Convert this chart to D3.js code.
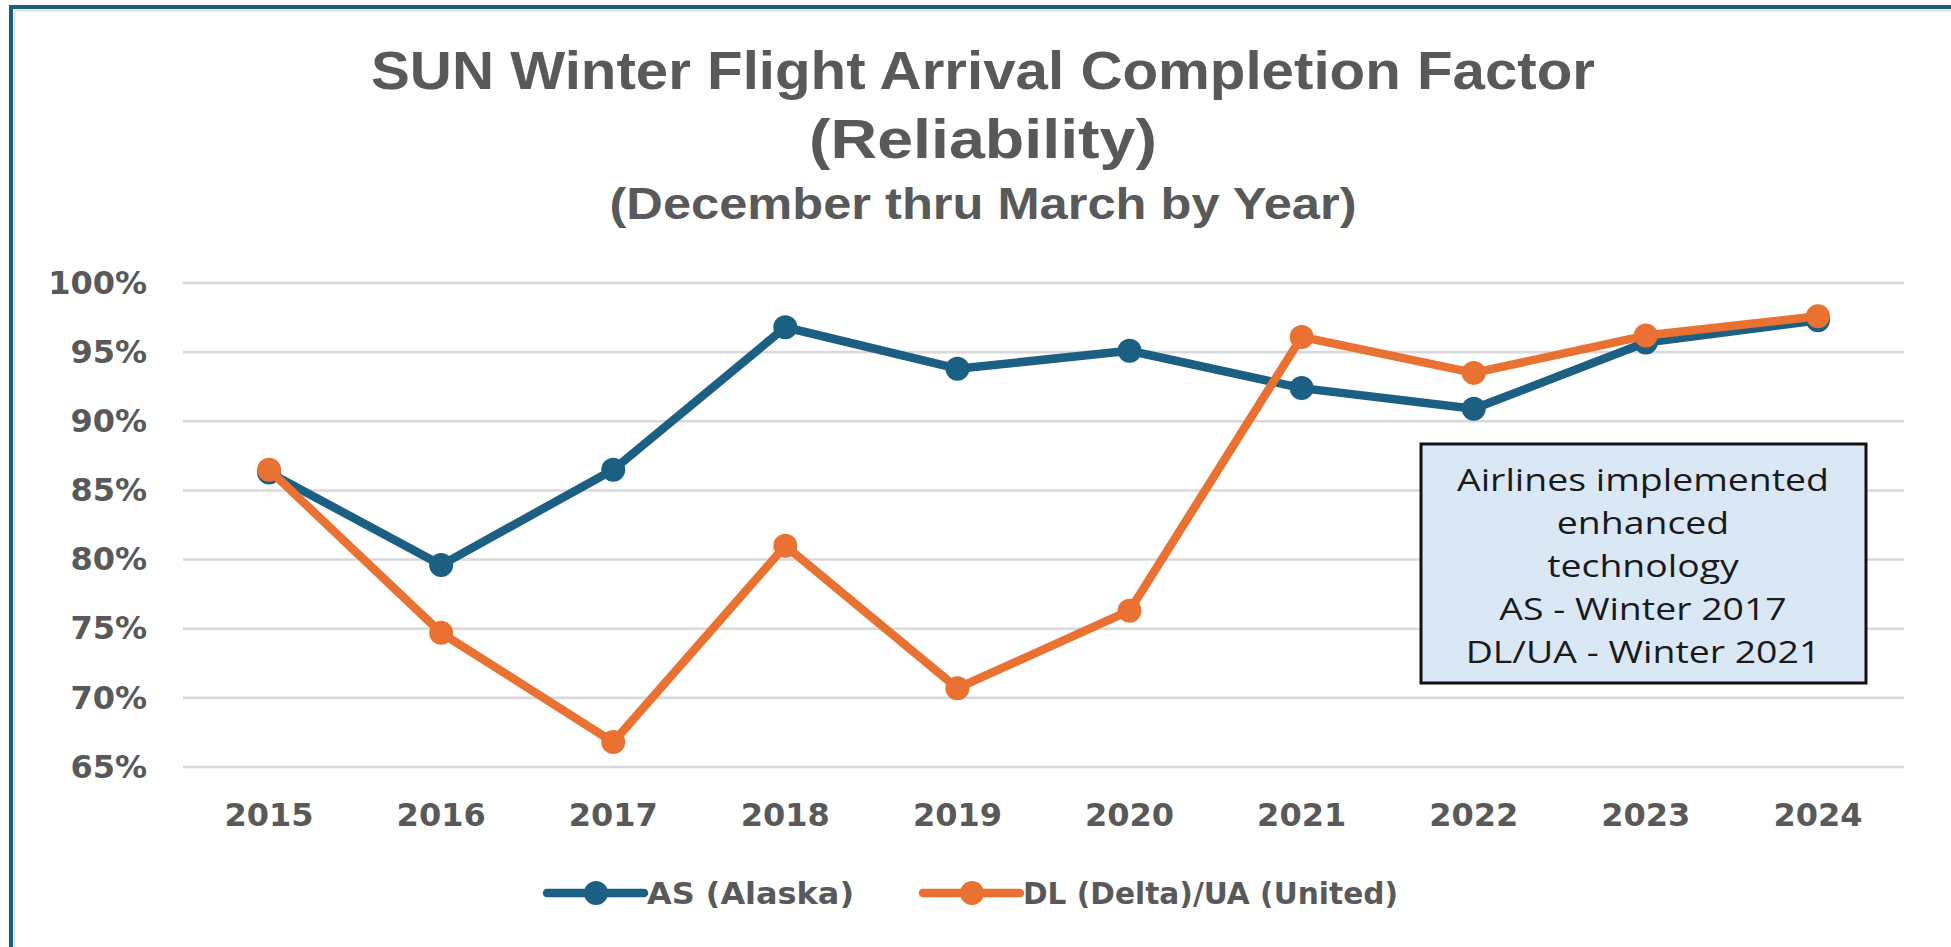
<!DOCTYPE html>
<html>
<head>
<meta charset="utf-8">
<script src="https://cdn.jsdelivr.net/npm/d3@7"></script>
<style>
  body { margin: 0; background: #ffffff; }
  svg { display: block; }
</style>
</head>
<body>
<div id="chart"></div>
<script>
    // Chart data
    let years = ["2015", "2016", "2017", "2018", "2019", "2020", "2021", "2022", "2023", "2024"];
    let asValues = [0.863, 0.796, 0.865, 0.968, 0.938, 0.951, 0.924, 0.909, 0.957, 0.973];
    let dlValues = [0.865, 0.747, 0.668, 0.810, 0.707, 0.763, 0.961, 0.935, 0.962, 0.976];
    let yTicks = [0.65, 0.70, 0.75, 0.80, 0.85, 0.90, 0.95, 1.00];
    let seriesNames = ["AS (Alaska)", "DL (Delta)/UA (United)"];
    let titleLines = ["SUN Winter Flight Arrival Completion Factor", "(Reliability)", "(December thru March by Year)"];
    let noteLines = ["Airlines implemented", "enhanced", "technology", "AS - Winter 2017", "DL/UA - Winter 2021"];

    //SVG Variables
    let svgWidth = 1951;
    let svgHeight = 947;

    let plot = { left: 183, right: 1904, top: 283, bottom: 767 };

    let blue = "#1b5f82";
    let orange = "#e97132";
    let textGrey = "#595959";

    let svg = d3.select("#chart")
        .append("svg")
        .attr("width", svgWidth)
        .attr("height", svgHeight);

    // frame (top and left edges only)
    svg.append("rect")
        .attr("x", 0).attr("y", 0)
        .attr("width", svgWidth).attr("height", svgHeight)
        .style("fill", "#ffffff");
    svg.append("line")
        .attr("x1", 14).attr("x2", svgWidth).attr("y1", 10.5).attr("y2", 10.5)
        .style("stroke", "#c6e3ec").style("stroke-width", 1.5);
    svg.append("line")
        .attr("x1", 14.5).attr("x2", 14.5).attr("y1", 10).attr("y2", svgHeight)
        .style("stroke", "#c6e3ec").style("stroke-width", 1.5);
    svg.append("line")
        .attr("x1", 9).attr("x2", svgWidth).attr("y1", 7).attr("y2", 7)
        .style("stroke", "#1d5e7e").style("stroke-width", 4);
    svg.append("line")
        .attr("x1", 11).attr("x2", 11).attr("y1", 5).attr("y2", svgHeight)
        .style("stroke", "#1d5e7e").style("stroke-width", 4);

    // Titles
    let titleSpecs = [
        { y: 89, size: 54, len: 1224 },
        { y: 158, size: 55, len: 348 },
        { y: 219, size: 45, len: 747 }
    ];
    svg.selectAll(".title")
        .data(titleLines)
        .enter().append("text")
        .attr("class", "title")
        .attr("x", 983)
        .attr("y", (d, i) => titleSpecs[i].y)
        .attr("text-anchor", "middle")
        .attr("textLength", (d, i) => titleSpecs[i].len)
        .attr("lengthAdjust", "spacingAndGlyphs")
        .style("font-family", "'Liberation Sans', Arial, sans-serif")
        .style("font-weight", "bold")
        .style("font-size", (d, i) => titleSpecs[i].size + "px")
        .style("fill", textGrey)
        .text(d => d);

    // Scales
    let x = d3.scaleBand()
        .domain(years)
        .range([plot.left, plot.right]);

    let y = d3.scaleLinear()
        .domain([0.65, 1.0])
        .range([plot.bottom, plot.top]);

    // gridlines
    svg.append("g")
        .selectAll("line")
        .data(yTicks)
        .enter().append("line")
        .attr("x1", plot.left)
        .attr("x2", plot.right)
        .attr("y1", d => y(d))
        .attr("y2", d => y(d))
        .style("stroke", "#d9d9d9")
        .style("stroke-width", 2.6);

    // y axis labels
    let yAxis = d3.axisLeft(y)
        .tickValues(yTicks)
        .tickFormat(d3.format(".0%"))
        .tickSize(0)
        .tickPadding(0);

    let yAxisGroup = svg.append("g")
        .attr("transform", `translate(147,0)`)
        .call(yAxis);
    yAxisGroup.select(".domain").remove();
    yAxisGroup.selectAll("text")
        .style("font-family", "'DejaVu Sans', Verdana, sans-serif")
        .style("font-weight", "bold")
        .style("font-size", "32px")
        .style("fill", textGrey);

    // x axis labels
    let xAxis = d3.axisBottom(x)
        .tickSize(0)
        .tickPadding(0);

    let xAxisGroup = svg.append("g")
        .attr("transform", `translate(0,803)`)
        .call(xAxis);
    xAxisGroup.select(".domain").remove();
    xAxisGroup.selectAll("text")
        .attr("dy", "0.71em")
        .style("font-family", "'DejaVu Sans', Verdana, sans-serif")
        .style("font-weight", "bold")
        .style("font-size", "32px")
        .style("fill", textGrey);

    // Lines
    let lineGen = d3.line()
        .x((d, i) => x(years[i]) + x.bandwidth() / 2)
        .y(d => y(d));

    let series = [
        { name: seriesNames[0], values: asValues, color: blue },
        { name: seriesNames[1], values: dlValues, color: orange }
    ];

    series.forEach(function(s){
        let g = svg.append("g");
        g.append("path")
            .datum(s.values)
            .attr("d", lineGen)
            .style("fill", "none")
            .style("stroke", s.color)
            .style("stroke-width", 8.5)
            .style("stroke-linejoin", "round")
            .style("stroke-linecap", "round");
        g.selectAll("circle")
            .data(s.values)
            .enter().append("circle")
            .attr("cx", (d, i) => x(years[i]) + x.bandwidth() / 2)
            .attr("cy", d => y(d))
            .attr("r", 12)
            .style("fill", s.color);
    });

    // Annotation box
    let note = svg.append("g");
    note.append("rect")
        .attr("x", 1421)
        .attr("y", 444)
        .attr("width", 445)
        .attr("height", 239)
        .style("fill", "#dae8f5")
        .style("stroke", "#111111")
        .style("stroke-width", 3);
    let noteText = note.selectAll("text")
        .data(noteLines)
        .enter().append("text")
        .attr("x", 1643)
        .attr("y", (d, i) => 491 + i * 43)
        .attr("text-anchor", "middle")
        .style("font-family", "'Open Sans', sans-serif")
        .style("font-size", "31px")
        .style("fill", "#1a1a1a")
        .text(d => d);
    // widen every line by the same factor so the first line spans the box like the original
    let stretch = 372 / noteText.node().getComputedTextLength();
    noteText.each(function(){
        let w = this.getComputedTextLength();
        d3.select(this)
            .attr("textLength", w * stretch)
            .attr("lengthAdjust", "spacingAndGlyphs");
    });

    // Legend
    let legendItems = [
        { x: 547, color: blue, name: seriesNames[0], len: 207 },
        { x: 923, color: orange, name: seriesNames[1], len: 375 }
    ];
    let legend = svg.append("g");
    legendItems.forEach(function(item){
        legend.append("line")
            .attr("x1", item.x).attr("x2", item.x + 97)
            .attr("y1", 893).attr("y2", 893)
            .style("stroke", item.color)
            .style("stroke-width", 8.5)
            .style("stroke-linecap", "round");
        legend.append("circle")
            .attr("cx", item.x + 49).attr("cy", 893)
            .attr("r", 12)
            .style("fill", item.color);
        legend.append("text")
            .attr("x", item.x + 100)
            .attr("y", 893)
            .attr("dy", "0.36em")
            .attr("textLength", item.len)
            .attr("lengthAdjust", "spacingAndGlyphs")
            .style("font-family", "'DejaVu Sans', Verdana, sans-serif")
            .style("font-weight", "bold")
            .style("font-size", "30px")
            .style("fill", textGrey)
            .text(item.name);
    });
</script>
</body>
</html>
